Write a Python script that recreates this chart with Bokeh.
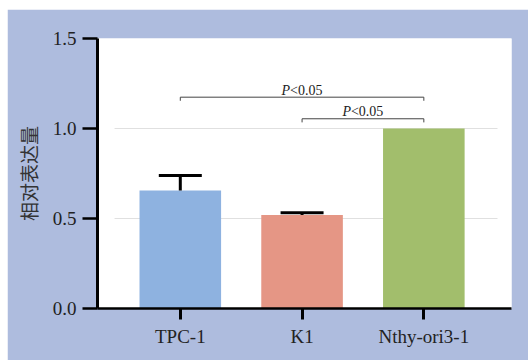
from bokeh.plotting import figure
from bokeh.models import ColumnDataSource, Range1d, FixedTicker, Whisker, TeeHead
from bokeh.core.properties import value
from bokeh.embed import file_html
from bokeh.resources import INLINE

# ---- data ----
categories = ["TPC-1", "K1", "Nthy-ori3-1"]
means = [0.656, 0.52, 1.0]
errors = [0.083, 0.012, 0.0]
colors = ["#8eb2e0", "#e59685", "#a2be6c"]
y_ticks = [0.0, 0.5, 1.0, 1.5]
y_tick_labels = ["0.0", "0.5", "1.0", "1.5"]
# significance brackets: (from category, to category, height, label)
brackets = [("TPC-1", "Nthy-ori3-1", 1.174, "<0.05"),
            ("K1", "Nthy-ori3-1", 1.054, "<0.05")]

BG = "#aebcde"
SERIF = "Liberation Serif"

xs = list(range(len(categories)))
pos = {c: i for i, c in enumerate(categories)}

p = figure(width=521, height=351, output_backend="svg", toolbar_location=None,
           x_range=Range1d(-0.68, 2.72), y_range=Range1d(0, 1.5),
           min_border_left=90, min_border_top=29, min_border_right=17, min_border_bottom=52,
           margin=(9, 0, 0, 7))
p.border_fill_color = BG
p.background_fill_color = "white"
p.outline_line_color = None
p.xgrid.visible = False
p.ygrid.visible = False

# gridlines (inset like the reference)
grid_vals = [t for t in y_ticks if 0 < t < 1.5]
p.segment(x0=[-0.54] * len(grid_vals), x1=[2.605] * len(grid_vals), y0=grid_vals, y1=grid_vals,
          line_color="#e0e0e0", line_width=1)

src = ColumnDataSource(dict(x=xs, top=means, color=colors))
p.vbar(x="x", top="top", bottom=0, width=0.67, fill_color="color", line_color=None, source=src)

err_idx = [i for i, e in enumerate(errors) if e > 0]
esrc = ColumnDataSource(dict(x=[xs[i] for i in err_idx],
                             upper=[means[i] + errors[i] for i in err_idx],
                             lower=[means[i] for i in err_idx]))
w = Whisker(base="x", upper="upper", lower="lower", source=esrc,
            upper_head=TeeHead(size=43, line_width=3, line_color="black"),
            lower_head=None, line_width=3, line_color="black", level="glyph")
p.add_layout(w)

# significance brackets
drop = 0.02
for a, b, h, lab in brackets:
    x0, x1 = pos[a], pos[b]
    p.line(x=[x0, x0, x1, x1], y=[h - drop, h, h, h - drop], line_color="#444444", line_width=1)
    xm = (x0 + x1) / 2
    p.text(x=[xm], y=[h], text=["P"], text_font=value(SERIF), text_font_style="italic",
           text_font_size="14px", text_align="right", text_baseline="alphabetic",
           x_offset=-12, y_offset=-7, text_color="#222222")
    p.text(x=[xm], y=[h], text=[lab], text_font=value(SERIF),
           text_font_size="14px", text_align="left", text_baseline="alphabetic",
           x_offset=-12, y_offset=-7, text_color="#222222")

# axes
xa = p.xaxis[0]
xa.ticker = FixedTicker(ticks=xs)
xa.major_label_overrides = {i: c for i, c in enumerate(categories)}
xa.major_label_text_font = SERIF
xa.major_label_text_font_size = "19px"
xa.major_label_text_color = "#222222"
xa.major_tick_out = 11
xa.major_tick_in = 0
xa.minor_tick_line_color = None
xa.major_tick_line_width = 3
xa.axis_line_width = 2.5
xa.axis_line_color = "black"
xa.major_tick_line_color = "black"
xa.major_label_standoff = 6

ya = p.yaxis[0]
ya.ticker = FixedTicker(ticks=y_ticks)
ya.major_label_overrides = {t: l for t, l in zip(y_ticks, y_tick_labels)}
ya.major_label_text_font = SERIF
ya.major_label_text_font_size = "19px"
ya.major_label_text_color = "#222222"
ya.major_tick_out = 15
ya.major_tick_in = 0
ya.minor_tick_line_color = None
ya.major_tick_line_width = 2.5
ya.axis_line_width = 3
ya.axis_line_color = "black"
ya.major_tick_line_color = "black"
ya.major_label_standoff = 6
ya.axis_label = "相对表达量"
ya.axis_label_text_font = "Noto Sans CJK SC"
ya.axis_label_text_font_size = "19px"
ya.axis_label_text_font_style = "normal"
ya.axis_label_text_color = "#333333"
ya.axis_label_standoff = 8

open("out.html", "w").write(file_html(p, INLINE))
